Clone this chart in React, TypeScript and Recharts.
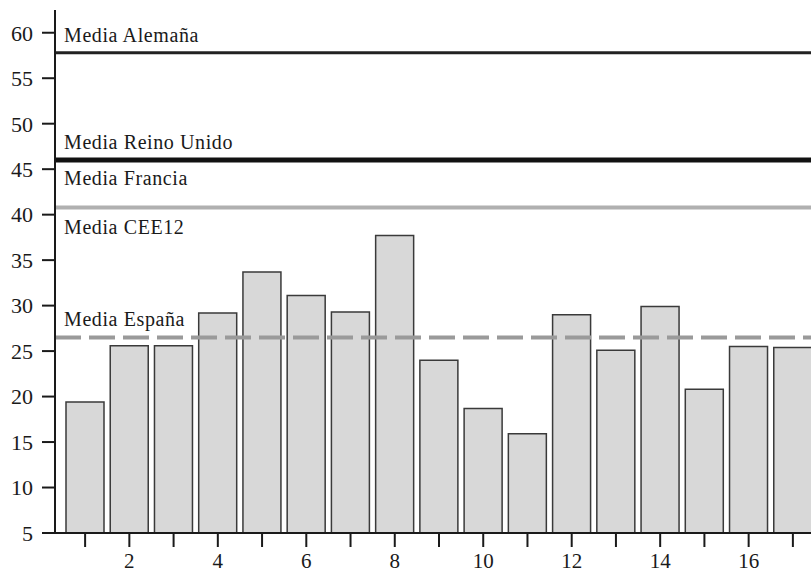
import { Bar, BarChart, Label, ReferenceLine, XAxis, YAxis } from "recharts";

const regions = [1, 2, 3, 4, 5, 6, 7, 8, 9, 10, 11, 12, 13, 14, 15, 16, 17];
const values = [19.4, 25.6, 25.6, 29.2, 33.7, 31.1, 29.3, 37.7, 24.0, 18.7, 15.9, 29.0, 25.1, 29.9, 20.8, 25.5, 25.4];
const yTicks = [5, 10, 15, 20, 25, 30, 35, 40, 45, 50, 55, 60];

const mediaAlemania = 57.8;
const mediaReinoUnido = 46.0;
const mediaFrancia = 40.8;
const mediaEspana = 26.5;

const data = regions.map((n, i) => ({ n, value: values[i] }));

const serif = "'Liberation Serif', 'DejaVu Serif', serif";

function mediaLabel(text: string, dy: number) {
  return ({ viewBox }: any) => (
    <text
      x={viewBox.x + 9}
      y={viewBox.y + dy}
      fill="#1a1a1a"
      fontFamily={serif}
      fontSize={20}
      letterSpacing={0.6}
    >
      {text}
    </text>
  );
}

export default function App() {
  return (
    <div
      style={{
        position: "absolute",
        left: 0,
        top: 0,
        width: 811,
        height: 576,
        overflow: "hidden",
        background: "#fff",
      }}
    >
      <BarChart
        width={815}
        height={576}
        data={data}
        margin={{ top: 10, right: 0, bottom: 0, left: 0 }}
        barCategoryGap={3}
      >
        <XAxis
          dataKey="n"
          interval={0}
          height={43}
          padding={{ left: 8, right: 0 }}
          axisLine={{ stroke: "#1a1a1a", strokeWidth: 2 }}
          tickLine={{ stroke: "#1a1a1a", strokeWidth: 2 }}
          tickSize={14}
          tickMargin={6}
          tickFormatter={(v: number) => (v % 2 === 0 ? String(v) : "")}
          tick={{ fill: "#1a1a1a", fontFamily: serif, fontSize: 21 }}
        />
        <YAxis
          type="number"
          domain={[5, 62.5]}
          ticks={yTicks}
          width={55}
          allowDataOverflow
          axisLine={{ stroke: "#1a1a1a", strokeWidth: 2 }}
          tickLine={{ stroke: "#1a1a1a", strokeWidth: 2 }}
          tickSize={13}
          tickMargin={9}
          tick={{ fill: "#1a1a1a", fontFamily: serif, fontSize: 22 }}
        />
        <Bar
          dataKey="value"
          fill="#d8d8d8"
          stroke="#3a3a3a"
          strokeWidth={1.5}
          isAnimationActive={false}
        />
        <ReferenceLine y={mediaAlemania} stroke="#222" strokeWidth={3} label={mediaLabel("Media Alemaña", -11)} />
        <ReferenceLine y={mediaReinoUnido} stroke="#111" strokeWidth={5} label={mediaLabel("Media Reino Unido", -11)} />
        <ReferenceLine y={mediaFrancia} stroke="#b0b0b0" strokeWidth={4}>
          <Label content={mediaLabel("Media Francia", -22)} />
          <Label content={mediaLabel("Media CEE12", 27)} />
        </ReferenceLine>
        <ReferenceLine
          y={mediaEspana}
          stroke="#9a9a9a"
          strokeWidth={4}
          strokeDasharray="26 8"
          label={mediaLabel("Media España", -11)}
        />
      </BarChart>
    </div>
  );
}
